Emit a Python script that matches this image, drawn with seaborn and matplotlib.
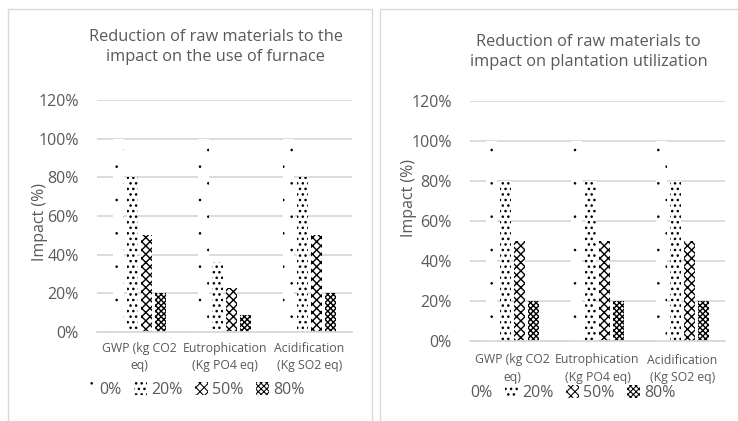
import numpy as np
import pandas as pd
import seaborn as sns
import matplotlib.pyplot as plt
import matplotlib.hatch as mhatch
from matplotlib.patches import Rectangle, Patch
from matplotlib.ticker import PercentFormatter

sns.set_theme(style="white")
plt.rcParams['font.family'] = ['Open Sans', 'DejaVu Sans']
plt.rcParams['hatch.linewidth'] = 0.75

# keep dot size the same whatever the dot density
_dots_init = mhatch.SmallFilledCircles.__init__
def _small_dots(self, hatch, density):
    _dots_init(self, hatch, density)
    self.size = 0.045 * max(hatch.count('.'), 1)
mhatch.SmallFilledCircles.__init__ = _small_dots

categories = ['GWP (kg CO2\neq)', 'Eutrophication\n(Kg PO4 eq)', 'Acidification\n(Kg SO2 eq)']
levels = ['0%', '20%', '50%', '80%']
# impact values (fraction) for each reduction level
furnace_0 = [1.00, 1.00, 1.00]
furnace_20 = [0.80, 0.36, 0.80]
furnace_50 = [0.50, 0.23, 0.50]
furnace_80 = [0.20, 0.09, 0.20]
plant_0 = [1.00, 1.00, 1.00]
plant_20 = [0.80, 0.80, 0.80]
plant_50 = [0.50, 0.50, 0.50]
plant_80 = [0.20, 0.20, 0.20]

hatches = ['.', '...', 'xxxx', 'xxxxxx']
hatch_lw = [0.75, 0.75, 1.0, 1.0]
grey = '#595959'


def make_df(v0, v20, v50, v80):
    rows = []
    for lvl, vals in zip(levels, [v0, v20, v50, v80]):
        for c, v in zip(categories, vals):
            rows.append({'cat': c, 'level': lvl, 'impact': v})
    return pd.DataFrame(rows)


def style_patch(p, i):
    p.set_hatch(hatches[i])
    p.set_linewidth(0)
    if hasattr(p, 'set_hatch_linewidth'):
        p.set_hatch_linewidth(hatch_lw[i])


def draw(ax, df, title, title_y, leg_y, leg_x, ylab_x, ylab_y, xpad):
    sns.barplot(data=df, x='cat', y='impact', hue='level', ax=ax,
                width=0.66, gap=0.2, palette=['white'] * 4,
                edgecolor='black', linewidth=0, legend=False)
    for i, cont in enumerate(ax.containers):
        for p in cont:
            style_patch(p, i)
    ax.set_ylim(0, 1.2)
    ax.set_yticks(np.arange(0, 1.21, 0.2))
    ax.yaxis.set_major_formatter(PercentFormatter(1.0, decimals=0))
    ax.grid(axis='y', color='#d9d9d9', linewidth=1.3)
    ax.set_axisbelow(True)
    for s in ['top', 'right', 'left']:
        ax.spines[s].set_visible(False)
    ax.spines['bottom'].set_color('#d9d9d9')
    ax.spines['bottom'].set_linewidth(1.3)
    ax.tick_params(axis='y', labelsize=11.5, labelcolor=grey, length=0, pad=13)
    ax.tick_params(axis='x', labelsize=8.8, labelcolor=grey, length=0, pad=xpad)
    for t in ax.get_xticklabels():
        t.set_linespacing(1.45)
    ax.set_xlabel('')
    ax.set_ylabel('Impact (%)', fontsize=11.5, color=grey)
    ax.yaxis.set_label_coords(ylab_x, ylab_y)
    fig = ax.figure
    pos = ax.get_position()
    fig.text(pos.x0 + pos.width / 2 - 0.012, title_y, title, ha='center', va='center',
             fontsize=11.8, color=grey, linespacing=1.3)
    handles = []
    for i in range(len(hatches)):
        hp = Patch(facecolor='white', edgecolor='black')
        style_patch(hp, i)
        handles.append(hp)
    fig.legend(handles, levels, loc='center left', bbox_to_anchor=(leg_x, leg_y),
               ncol=4, frameon=False, fontsize=11.5, labelcolor=grey,
               handlelength=0.8, handleheight=0.8, handletextpad=0.25, columnspacing=0.8)


fig = plt.figure(figsize=(7.38, 4.21), dpi=100)
W, H = 738, 421
fig.patches.append(Rectangle((8 / W, -0.01), 364 / W, (421 - 9) / H + 0.01, transform=fig.transFigure,
                             fill=False, edgecolor='#d9d9d9', linewidth=1))
fig.patches.append(Rectangle((380 / W, -0.01), 370 / W, (421 - 9) / H + 0.01, transform=fig.transFigure,
                             fill=False, edgecolor='#d9d9d9', linewidth=1))

ax1 = fig.add_axes([97 / W, (H - 332) / H, 255 / W, 232 / H])
ax2 = fig.add_axes([470 / W, (H - 341) / H, 255 / W, 240 / H])

draw(ax1, make_df(furnace_0, furnace_20, furnace_50, furnace_80),
     'Reduction of raw materials to the\nimpact on the use of furnace',
     1 - 47 / H, 1 - 390 / H, 68 / W, -0.192, 0.474, 7)
draw(ax2, make_df(plant_0, plant_20, plant_50, plant_80),
     'Reduction of raw materials to\nimpact on plantation utilization',
     1 - 52 / H, 1 - 393 / H, 439 / W, -0.208, 0.596, 9)

fig.savefig('out.png', dpi=100)
